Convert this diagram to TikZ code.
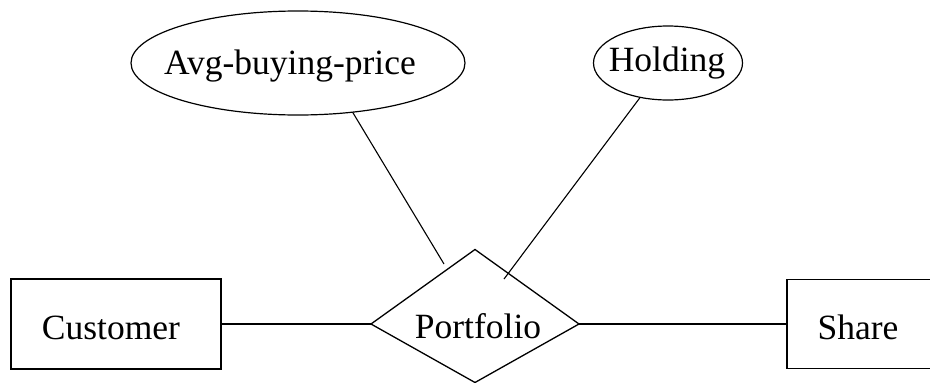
\documentclass[tikz,border=0pt]{standalone}
\usepackage{fontspec}
\setmainfont{Liberation Serif}
\usetikzlibrary{shapes.geometric}
\tikzset{
  entity/.style={draw, line width=1.4pt, rectangle, inner sep=0pt, outer sep=0pt},
  attrib/.style={draw, line width=1.2pt, ellipse, inner sep=0pt, outer sep=0pt},
  relbox/.style={draw, line width=1.3pt, line join=miter},
  link/.style={line width=1.1pt},
  lbl/.style={anchor=base, inner sep=0pt, font=\fontsize{35.5}{40}\selectfont},
}
\begin{document}
\begin{tikzpicture}[x=1pt, y=-1pt]
  \clip (0,0) rectangle (930,383);
  \fill[white] (0,0) rectangle (930,383);

  % entities
  \node[entity, minimum width=210pt, minimum height=90pt] (customer) at (116,324) {};
  \node[lbl] (customertext) at (111,339) {Customer};
  \node[entity, minimum width=210pt, minimum height=89pt] (share) at (892,324) {};
  \node[lbl] (sharetext) at (858,339) {Share};

  % relationship
  \coordinate (pw) at (371,324);
  \coordinate (pn) at (475,249.5);
  \coordinate (pe) at (579,324);
  \coordinate (ps) at (475,382.5);
  \draw[relbox] (pw) -- (pn) -- (pe) -- (ps) -- cycle;
  \node[lbl] (portfoliotext) at (478,338) {Portfolio};

  % attributes
  \node[attrib, minimum width=334pt, minimum height=104pt] (avg) at (298,63) {};
  \node[lbl] (avgtext) at (290,74) {Avg-buying-price};
  \node[attrib, minimum width=149pt, minimum height=74pt] (hold) at (668,63) {};
  \node[lbl] (holdtext) at (667,71) {Holding};

  % connectors
  \coordinate (avgfoot) at (444,264);
  \coordinate (holdfoot) at (504,279);
  \draw[link] (customer.east) -- (pw);
  \draw[link] (pe) -- (share.west);
  \draw[link] (avg.-42.4) -- (avgfoot);
  \draw[link] (hold.-129) -- (holdfoot);
\end{tikzpicture}
\end{document}
